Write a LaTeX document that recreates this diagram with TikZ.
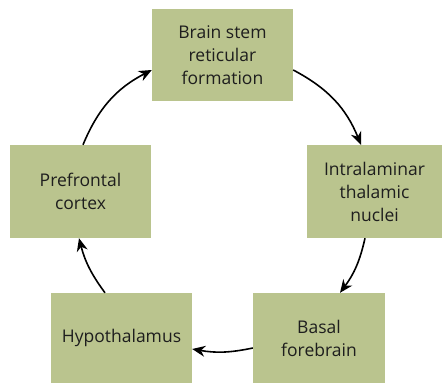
\documentclass[tikz,border=0pt]{standalone}
\usepackage{fontspec}
\setmainfont{Open Sans}
\usepackage{xcolor}
\usetikzlibrary{arrows.meta}

\definecolor{boxgreen}{HTML}{BAC48E}
\definecolor{boxtext}{HTML}{1E1E1E}

\begin{document}
\begin{tikzpicture}[x=1pt, y=1pt,
  area/.style={fill=boxgreen, inner sep=0pt, align=center, text=boxtext,
    font=\fontsize{17.5}{23}\selectfont, minimum width=141pt, minimum height=92pt},
  link/.style={-{Stealth[length=13pt, width=11pt]}, line width=1.6pt}]
  \useasboundingbox (0,0) rectangle (443,385);

  \node[area] (brain) at (222.5,329.5) {Brain stem\\reticular\\formation};
  \node[area, minimum width=135pt, minimum height=93pt] (thal) at (374.5,193.5) {Intralaminar\\thalamic\\nuclei};
  \node[area, minimum width=132pt, minimum height=90pt] (basal) at (319,47) {Basal\\forebrain};
  \node[area, minimum height=90pt] (hypo) at (121.5,47) {Hypothalamus};
  \node[area, minimum height=93pt] (pfc) at (80.5,193.5) {Prefrontal\\cortex};

  \draw[link] ([xshift=2.5pt]pfc.north) to[bend left=20] ([yshift=-14.5pt]brain.west);
  \draw[link] ([yshift=-14.5pt]brain.east) to[bend left=20] ([xshift=-13.5pt]thal.north);
  \draw[link] ([xshift=-9.5pt]thal.south) to[bend left=12] ([xshift=21pt]basal.north);
  \draw[link] ([yshift=-10pt]basal.west) to[bend left=11] ([yshift=-11pt]hypo.east);
  \draw[link] ([xshift=-16.5pt]hypo.north) to[bend left=11] ([xshift=-1.5pt]pfc.south);
\end{tikzpicture}
\end{document}
